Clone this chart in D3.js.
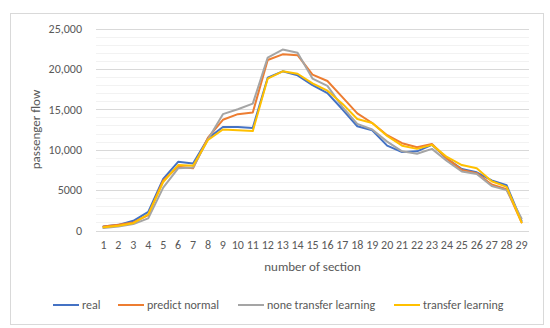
<html>
<head>
<script src="https://d3js.org/d3.v7.min.js"></script>
<style>
body { margin: 0; background: #fff; }
text { font-family: Carlito, Calibri, "Liberation Sans", sans-serif; fill: #595959; }
</style>
</head>
<body>
<svg id="chart" width="550" height="328"></svg>
<script>
// sections 1..29
var sections = d3.range(1, 30);

// passenger flow
var real = [500, 700, 1200, 2300, 6400, 8500, 8300, 11400, 12800, 12800, 12700, 18900, 19700, 19200, 18000, 17000, 15000, 12900, 12400, 10500, 9700, 9800, 10600, 8900, 7600, 7200, 6200, 5600, 1200];
var predictNormal = [500, 700, 1000, 1900, 6200, 7900, 7700, 11500, 13700, 14400, 14600, 21100, 21800, 21700, 19300, 18500, 16500, 14500, 13300, 11800, 10800, 10300, 10700, 8900, 7500, 7100, 5700, 5100, 1000];
var noneTransfer = [300, 500, 800, 1500, 5300, 7700, 7800, 11300, 14400, 15000, 15700, 21400, 22400, 22000, 18800, 17900, 15300, 13200, 12500, 11000, 9800, 9500, 10100, 8600, 7300, 7000, 5500, 5000, 1500];
var transfer = [400, 600, 900, 2000, 6000, 8100, 8000, 11200, 12500, 12400, 12300, 18800, 19700, 19400, 18200, 17300, 15700, 13800, 13300, 11700, 10500, 10100, 10600, 9100, 8100, 7700, 6100, 5400, 1000];

var seriesNames = ["real", "predict normal", "none transfer learning", "transfer learning"];
var seriesColors = ["#4472C4", "#ED7D31", "#A5A5A5", "#FFC000"];
var yTicks = [0, 5000, 10000, 15000, 20000, 25000];
var yTickLabels = ["0", "5000", "10,000", "15,000", "20,000", "25,000"];

var svg = d3.select("#chart");

// outer frame
svg.append("rect")
  .attr("x", 10.5).attr("y", 13.5)
  .attr("width", 533).attr("height", 311)
  .attr("fill", "#fff").attr("stroke", "#d9d9d9");

var plotLeft = 96, plotRight = 529, plotTop = 28.5, plotBottom = 230.5;

var x = d3.scaleBand().domain(sections).range([plotLeft, plotRight]);
var y = d3.scaleLinear().domain([0, 25000]).range([plotBottom, plotTop]);

// minor grid every 1000
svg.append("g").selectAll("line")
  .data(d3.range(1000, 25001, 1000).filter(function(d) { return d % 5000 != 0; }))
  .enter().append("line")
  .attr("x1", plotLeft).attr("x2", plotRight)
  .attr("y1", function(d) { return Math.round(y(d)) + 0.5; })
  .attr("y2", function(d) { return Math.round(y(d)) + 0.5; })
  .attr("stroke", "#f2f2f2");

// major grid
svg.append("g").selectAll("line")
  .data(yTicks)
  .enter().append("line")
  .attr("x1", plotLeft).attr("x2", plotRight)
  .attr("y1", function(d) { return Math.round(y(d)) + 0.5; })
  .attr("y2", function(d) { return Math.round(y(d)) + 0.5; })
  .attr("stroke", "#d9d9d9");

// y axis labels
var yAxis = svg.append("g")
  .attr("transform", "translate(" + (plotLeft - 6) + ",0)")
  .call(d3.axisLeft(y).tickValues(yTicks).tickSize(0)
    .tickFormat(function(d, i) { return yTickLabels[i]; }));
yAxis.select(".domain").remove();
yAxis.selectAll("text").attr("font-size", "12px").attr("fill", "#595959")
  .attr("x", -8);

// x axis labels
var xAxis = svg.append("g")
  .attr("transform", "translate(0," + plotBottom + ")")
  .call(d3.axisBottom(x).tickSize(0));
xAxis.select(".domain").remove();
xAxis.selectAll("text").attr("font-size", "12px").attr("fill", "#595959")
  .attr("dy", "0.71em").attr("y", 10);

// axis titles
svg.append("text")
  .attr("x", (plotLeft + plotRight) / 2).attr("y", 271)
  .attr("text-anchor", "middle").attr("font-size", "13px")
  .text("number of section");

svg.append("text")
  .attr("transform", "translate(40," + ((plotTop + plotBottom) / 2) + ") rotate(-90)")
  .attr("text-anchor", "middle").attr("font-size", "13px")
  .text("passenger flow");

// lines
var allSeries = [real, predictNormal, noneTransfer, transfer];
var line = d3.line()
  .x(function(d, i) { return x(sections[i]) + x.bandwidth() / 2; })
  .y(function(d) { return y(d); });

svg.append("g").selectAll("path")
  .data(allSeries)
  .enter().append("path")
  .attr("d", line)
  .attr("fill", "none")
  .attr("stroke", function(d, i) { return seriesColors[i]; })
  .attr("stroke-width", 2)
  .attr("stroke-linejoin", "round")
  .attr("stroke-linecap", "round");

// legend
var legendX = [53, 118, 238, 394];
var legend = svg.append("g").selectAll("g")
  .data(seriesNames)
  .enter().append("g")
  .attr("transform", function(d, i) { return "translate(" + legendX[i] + ",305)"; });
legend.append("line")
  .attr("x1", 0).attr("x2", 26)
  .attr("stroke", function(d, i) { return seriesColors[i]; })
  .attr("stroke-width", 2);
legend.append("text")
  .attr("x", 29).attr("dy", "0.35em")
  .attr("font-size", "12px")
  .text(function(d) { return d; });
</script>
</body>
</html>
